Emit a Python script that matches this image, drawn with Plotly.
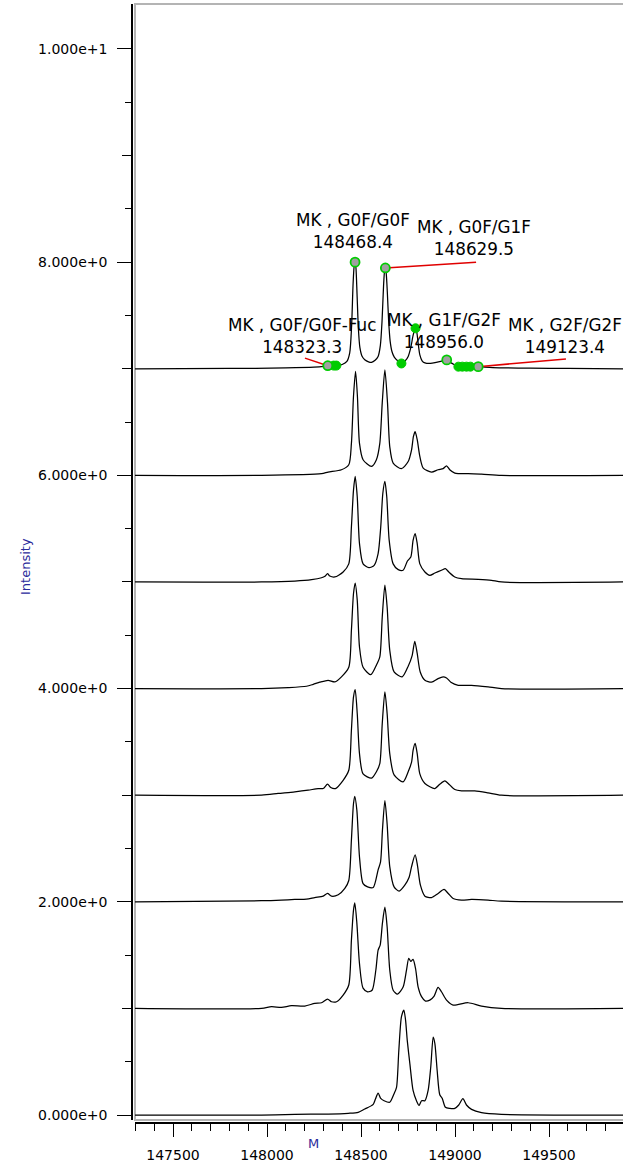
import plotly.graph_objects as go

# Deconvoluted mass spectra (mass in Da, relative intensity), stacked with offsets
spec0_mass = [147298, 147971, 148148, 148325, 148432, 148485, 148520, 148565, 148577, 148591,
              148605, 148623, 148653, 148676, 148689, 148701, 148715, 148728, 148737, 148746,
              148760, 148777, 148795, 148809, 148822, 148840, 148857, 148871, 148884, 148893,
              148905, 148919, 148932, 148949, 148972, 148999, 149020, 149042, 149061, 149088,
              149141, 149247, 149894]
spec0_int = [0.0, 0.0, 0.006, 0.009, 0.016, 0.025, 0.056, 0.10, 0.15, 0.206,
             0.156, 0.134, 0.12, 0.20, 0.26, 0.60, 0.92, 0.985, 0.89, 0.70,
             0.48, 0.23, 0.134, 0.09, 0.134, 0.134, 0.23, 0.45, 0.73, 0.67,
             0.42, 0.19, 0.156, 0.072, 0.0625, 0.0625, 0.094, 0.153, 0.094, 0.053,
             0.022, 0.006, 0.0]

spec1_mass = [147298, 147971, 148024, 148077, 148130, 148201, 148254, 148290, 148322, 148343,
              148370, 148405, 148435, 148449, 148460, 148467, 148478, 148492, 148511, 148535,
              148559, 148579, 148591, 148602, 148614, 148627, 148639, 148653, 148671, 148694,
              148724, 148742, 148754, 148765, 148777, 148790, 148804, 148822, 148843, 148866,
              148889, 148910, 148928, 148955, 148990, 149070, 149141, 149247, 149894]
spec1_int = [0.0, 0.0, 0.016, 0.009, 0.025, 0.022, 0.047, 0.053, 0.0875, 0.0625,
             0.0625, 0.125, 0.22, 0.64, 0.92, 0.99, 0.80, 0.42, 0.19, 0.156,
             0.17, 0.36, 0.547, 0.594, 0.80, 0.95, 0.766, 0.36, 0.17, 0.134,
             0.20, 0.36, 0.47, 0.44, 0.46, 0.375, 0.20, 0.11, 0.069, 0.078,
             0.116, 0.197, 0.156, 0.078, 0.031, 0.053, 0.022, 0.0, 0.0]

spec2_mass = [147298, 147971, 148077, 148148, 148210, 148254, 148299, 148322, 148343, 148379,
              148414, 148435, 148449, 148460, 148467, 148478, 148492, 148511, 148535, 148565,
              148591, 148604, 148614, 148627, 148639, 148653, 148676, 148703, 148733, 148756,
              148769, 148788, 148800, 148816, 148840, 148875, 148910, 148942, 148964, 148990,
              149035, 149088, 149176, 149247, 149894]
spec2_int = [0.0, 0.01, 0.016, 0.022, 0.025, 0.04, 0.053, 0.078, 0.053, 0.066,
             0.125, 0.20, 0.58, 0.92, 0.99, 0.86, 0.42, 0.17, 0.14, 0.134,
             0.30, 0.375, 0.67, 0.95, 0.73, 0.33, 0.14, 0.10, 0.156, 0.23,
             0.33, 0.44, 0.344, 0.156, 0.053, 0.04, 0.078, 0.116, 0.078, 0.031,
             0.016, 0.022, 0.016, 0.006, 0.0]

spec3_mass = [147298, 147971, 148059, 148148, 148219, 148272, 148299, 148322, 148339, 148364,
              148405, 148435, 148449, 148460, 148469, 148480, 148492, 148511, 148556, 148582,
              148600, 148613, 148627, 148639, 148653, 148676, 148724, 148751, 148769, 148777,
              148788, 148799, 148813, 148840, 148893, 148919, 148946, 148964, 148999, 149035,
              149105, 149176, 149247, 149894]
spec3_int = [0.0, 0.0, 0.016, 0.031, 0.047, 0.0625, 0.0625, 0.103, 0.072, 0.0625,
             0.14, 0.234, 0.61, 0.92, 0.99, 0.766, 0.39, 0.20, 0.16, 0.22,
             0.297, 0.67, 0.97, 0.766, 0.39, 0.19, 0.125, 0.22, 0.31, 0.42,
             0.485, 0.39, 0.20, 0.11, 0.0625, 0.103, 0.134, 0.11, 0.053, 0.04,
             0.04, 0.022, 0.0, 0.0]

spec4_mass = [147298, 147971, 148113, 148210, 148246, 148281, 148325, 148361, 148396, 148435,
              148449, 148460, 148469, 148480, 148492, 148511, 148552, 148582, 148600, 148613,
              148627, 148639, 148653, 148676, 148719, 148751, 148772, 148786, 148799, 148815,
              148840, 148875, 148910, 148937, 148955, 148978, 149017, 149088, 149176, 149247,
              149894]
spec4_int = [0.0, 0.0, 0.009, 0.022, 0.04, 0.06, 0.078, 0.0625, 0.11, 0.20,
             0.547, 0.89, 0.99, 0.83, 0.39, 0.20, 0.13, 0.22, 0.297, 0.67,
             0.97, 0.766, 0.36, 0.156, 0.11, 0.21, 0.31, 0.444, 0.33, 0.156,
             0.078, 0.06, 0.094, 0.11, 0.10, 0.06, 0.031, 0.031, 0.016, 0.0,
             0.0]

spec5_mass = [147298, 147971, 148148, 148237, 148290, 148308, 148322, 148334, 148361, 148405,
              148435, 148449, 148460, 148469, 148480, 148492, 148511, 148542, 148570, 148591,
              148605, 148616, 148627, 148637, 148650, 148671, 148698, 148724, 148747, 148765,
              148777, 148788, 148799, 148813, 148840, 148866, 148893, 148928, 148949, 148967,
              148999, 149035, 149123, 149194, 149247, 149894]
spec5_int = [0.0, 0.0, 0.009, 0.022, 0.04, 0.053, 0.078, 0.056, 0.047, 0.094,
             0.17, 0.516, 0.86, 0.99, 0.80, 0.36, 0.17, 0.134, 0.156, 0.266,
             0.516, 0.83, 0.944, 0.80, 0.39, 0.17, 0.116, 0.11, 0.197, 0.234,
             0.39, 0.453, 0.36, 0.17, 0.094, 0.0625, 0.084, 0.11, 0.125, 0.094,
             0.047, 0.031, 0.025, 0.016, 0.0, 0.0]

spec6_mass = [147298, 147971, 148290, 148325, 148396, 148435, 148449, 148460, 148471, 148481,
              148492, 148511, 148556, 148582, 148600, 148613, 148627, 148641, 148653, 148671,
              148715, 148751, 148769, 148779, 148788, 148799, 148813, 148831, 148875, 148910,
              148937, 148955, 148972, 148999, 149070, 149141, 149247, 149894]
spec6_int = [0.0, 0.0, 0.016, 0.031, 0.053, 0.10, 0.30, 0.74, 0.976, 0.74,
             0.30, 0.147, 0.084, 0.147, 0.30, 0.68, 0.99, 0.68, 0.27, 0.116,
             0.063, 0.13, 0.24, 0.366, 0.41, 0.335, 0.178, 0.069, 0.031, 0.053,
             0.063, 0.09, 0.053, 0.022, 0.016, 0.0125, 0.0, 0.0]

spec7_mass = [147298, 147800, 148100, 148250, 148300, 148323.3, 148369, 148400, 148425, 148440,
              148450, 148458, 148464, 148468.4, 148473, 148479, 148486, 148494, 148505, 148520,
              148540, 148556, 148575, 148591, 148603, 148612, 148620, 148626, 148629.5, 148634,
              148640, 148647, 148655, 148665, 148677, 148695, 148715, 148735, 148751, 148765,
              148778, 148790, 148797, 148804, 148813, 148825, 148840, 148870, 148900, 148930,
              148956, 148975, 148995, 149018, 149050, 149082, 149123.4, 149200, 149400, 149600,
              149894]
spec7_int = [0.0, 0.003, 0.008, 0.015, 0.022, 0.029, 0.03, 0.04, 0.07, 0.15,
             0.40, 0.80, 0.97, 1.0, 0.95, 0.70, 0.38, 0.20, 0.12, 0.085,
             0.065, 0.06, 0.08, 0.116, 0.22, 0.45, 0.78, 0.93, 0.946, 0.90,
             0.72, 0.45, 0.26, 0.16, 0.11, 0.075, 0.05, 0.075, 0.116, 0.20,
             0.32, 0.38, 0.34, 0.24, 0.13, 0.075, 0.055, 0.05, 0.06, 0.072,
             0.083, 0.06, 0.04, 0.025, 0.02, 0.02, 0.02, 0.012, 0.006, 0.004,
             0.0]

spectra = [
    (spec0_mass, spec0_int), (spec1_mass, spec1_int), (spec2_mass, spec2_int),
    (spec3_mass, spec3_int), (spec4_mass, spec4_int), (spec5_mass, spec5_int),
    (spec6_mass, spec6_int), (spec7_mass, spec7_int),
]
spec_offsets = [0, 1, 2, 3, 4, 5, 6, 7]

# Identified glycoforms on the top spectrum
glyco_labels = ["MK , G0F/G0F-Fuc", "MK , G0F/G0F", "MK , G0F/G1F", "MK , G1F/G2F", "MK , G2F/G2F"]
glyco_mass = [148323.3, 148468.4, 148629.5, 148956.0, 149123.4]
glyco_int = [7.029, 8.0, 7.946, 7.083, 7.02]
# label block centres (mass, intensity)
glyco_text_mass = [148186, 148457, 149101, 148941, 149585]
glyco_text_int = [7.312, 8.288, 8.226, 7.359, 7.308]
# leader line end points (None = no leader)
leader_end_mass = [148202, None, 149112, None, 149590]
leader_end_int = [7.10, None, 8.0, None, 7.092]

# Other detected peaks on the top spectrum
detected_mass = [148355, 148369, 148715, 148790, 149018, 149039, 149061, 149082]
detected_int = [7.03, 7.03, 7.05, 7.38, 7.02, 7.02, 7.02, 7.02]

ytick_vals = [0, 2, 4, 6, 8, 10]
ytick_text = ["0.000e+0", "2.000e+0", "4.000e+0", "6.000e+0", "8.000e+0", "1.000e+1"]
ytick_mid_vals = [1, 3, 5, 7, 9]
xtick_vals = [147500, 148000, 148500, 149000, 149500]
xtick_text = ["147500", "148000", "148500", "149000", "149500"]

W, H = 623, 1162
ML, MR, MT, MB = 132, 0, 4, 39
PW, PH = W - ML - MR, H - MT - MB
X_RANGE = [147297.9, 149893.6]
Y_RANGE = [-0.0469, 10.422]
FONT = "DejaVu Sans"
GREEN = "#00cc00"
AXIS_BLUE = "#2b2b9b"

fig = go.Figure()

for (m, v), off in zip(spectra, spec_offsets):
    fig.add_trace(go.Scatter(
        x=m, y=[off + val for val in v], mode="lines",
        line=dict(color="black", width=1.25, shape="spline", smoothing=0.7),
        hoverinfo="skip", showlegend=False,
    ))

# leader lines
for xm, yi, xe, ye in zip(glyco_mass, glyco_int, leader_end_mass, leader_end_int):
    if xe is None:
        continue
    fig.add_trace(go.Scatter(
        x=[xm, xe], y=[yi, ye], mode="lines",
        line=dict(color="#e00000", width=1.5), hoverinfo="skip", showlegend=False,
    ))

fig.add_trace(go.Scatter(
    x=detected_mass, y=detected_int, mode="markers",
    marker=dict(size=9, color=GREEN, line=dict(color=GREEN, width=1)),
    hoverinfo="skip", showlegend=False,
))
fig.add_trace(go.Scatter(
    x=glyco_mass, y=glyco_int, mode="markers",
    marker=dict(size=9, color="#a0a0a0", line=dict(color=GREEN, width=1.8)),
    hoverinfo="skip", showlegend=False,
))

# secondary y axis carrying the unlabeled integer ticks
fig.add_trace(go.Scatter(x=[], y=[], yaxis="y2", hoverinfo="skip", showlegend=False))

for lab, mass, xm, yi in zip(glyco_labels, glyco_mass, glyco_text_mass, glyco_text_int):
    fig.add_annotation(
        x=xm, y=yi, xref="x", yref="y",
        text=f"{lab}<br>{mass:.1f}",
        showarrow=False, xanchor="center", yanchor="middle",
        font=dict(family=FONT, size=16.8, color="black"),
    )

fig.add_annotation(
    x=(25 - ML) / PW, y=(H - MB - 567) / PH, xref="paper", yref="paper",
    text="Intensity", textangle=-90, showarrow=False,
    xanchor="center", yanchor="middle",
    font=dict(family=FONT, size=13, color=AXIS_BLUE),
)
fig.add_annotation(
    x=(313 - ML) / PW, y=(H - MB - 1143) / PH, xref="paper", yref="paper",
    text="M", showarrow=False, xanchor="center", yanchor="middle",
    font=dict(family=FONT, size=13, color=AXIS_BLUE),
)

# grey plot frame
fig.add_shape(type="rect", xref="x domain", yref="y domain",
              x0=0, x1=1.2, y0=0, y1=1,
              line=dict(color="#b4b4b4", width=2), layer="below")

fig.update_layout(
    width=W, height=H,
    margin=dict(l=ML, r=MR, t=MT, b=MB),
    paper_bgcolor="white", plot_bgcolor="white",
    font=dict(family=FONT, color="black"),
    xaxis=dict(
        domain=[3 / PW, 1], range=X_RANGE, anchor="free", position=0,
        showgrid=False, zeroline=False, showline=True, linecolor="black", linewidth=1.5,
        tickmode="array", tickvals=xtick_vals, ticktext=xtick_text,
        ticks="outside", ticklen=13, tickcolor="black", tickwidth=1.3,
        minor=dict(ticks="outside", dtick=100, tick0=147500, ticklen=7,
                   tickcolor="black", tickwidth=1.3),
        tickfont=dict(family=FONT, size=14, color="black"),
        ticklabelstandoff=6,
    ),
    yaxis=dict(
        domain=[3 / PH, 1], range=Y_RANGE, anchor="free", position=0,
        showgrid=False, zeroline=False, showline=True, linecolor="black", linewidth=1.5,
        tickmode="array", tickvals=ytick_vals, ticktext=ytick_text,
        ticks="outside", ticklen=14, tickcolor="black", tickwidth=1.3,
        minor=dict(ticks="outside", dtick=0.5, tick0=0, ticklen=6,
                   tickcolor="black", tickwidth=1.3),
        tickfont=dict(family=FONT, size=14, color="black"),
        ticklabelstandoff=7,
    ),
    yaxis2=dict(
        domain=[3 / PH, 1], range=Y_RANGE, overlaying="y", anchor="free", position=0,
        side="left", showgrid=False, zeroline=False, showline=False,
        tickmode="array", tickvals=ytick_mid_vals, ticks="outside", ticklen=10,
        tickcolor="black", tickwidth=1.3, showticklabels=False,
    ),
)

fig.write_html("out.html")
